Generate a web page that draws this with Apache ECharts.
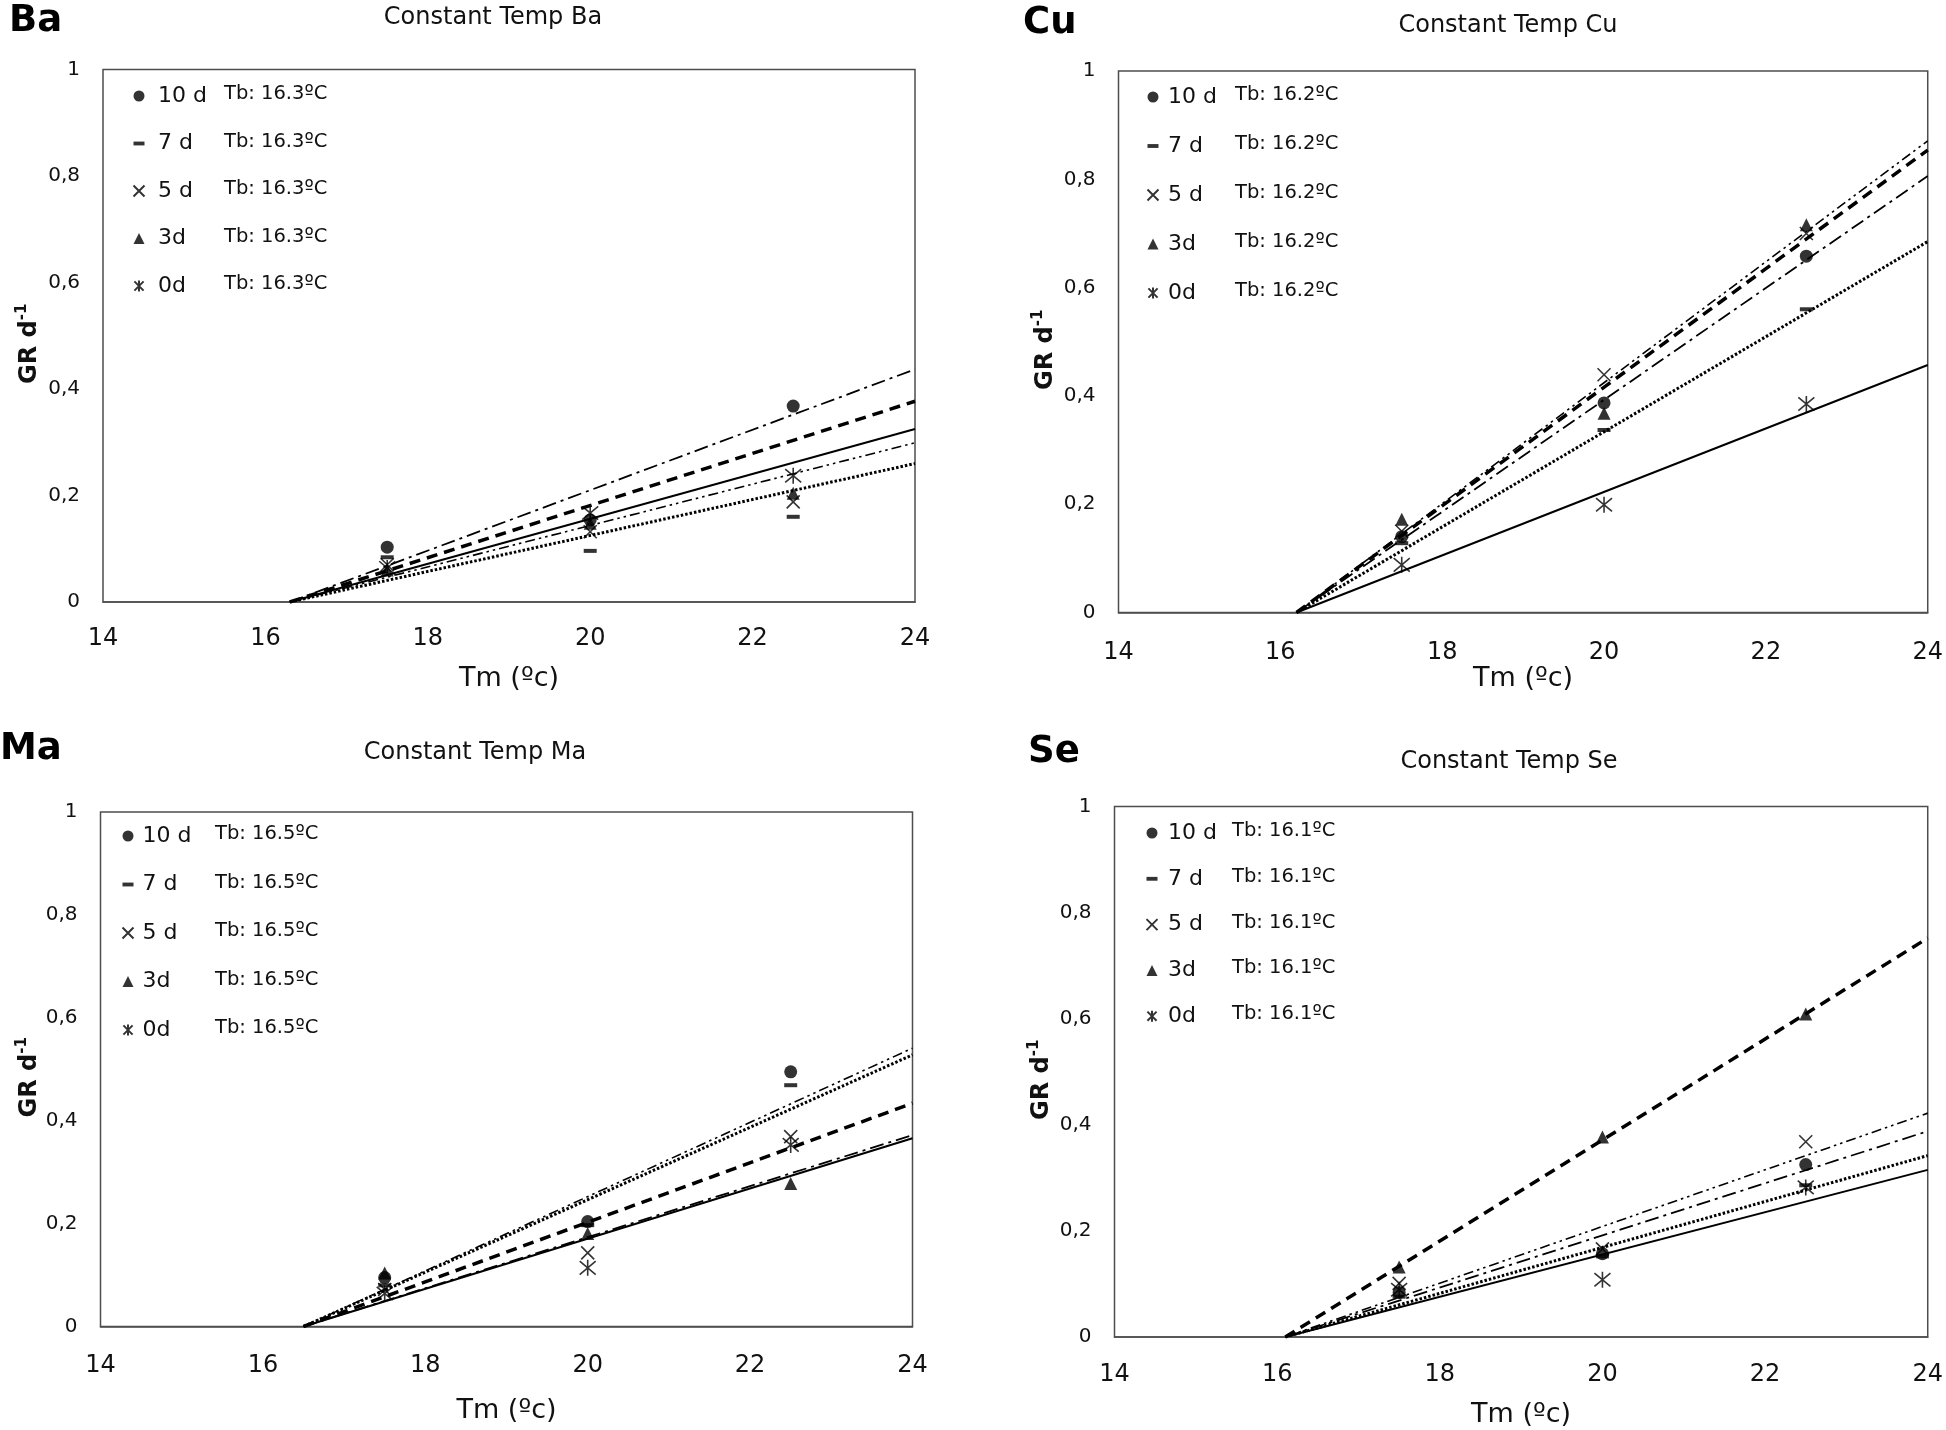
<!DOCTYPE html>
<html>
<head>
<meta charset="utf-8">
<script src="https://cdn.jsdelivr.net/npm/echarts@6/dist/echarts.min.js"></script>
<style>
html,body{margin:0;padding:0;background:#fff;}
#c{width:1946px;height:1430px;}
</style>
</head>
<body>
<div id="c"></div>
<script>
// ---------------- DATA ----------------
const tempPoints = [17.5, 20, 22.5];              // Tm (ºC) of the measured points
const seriesNames = ['10 d', '7 d', '5 d', '3d', '0d'];
const xTicks = [14, 16, 18, 20, 22, 24];
const yTickLabels = ['0', '0,2', '0,4', '0,6', '0,8', '1'];
const panelLabels = ['Ba', 'Cu', 'Ma', 'Se'];
const panelTitles = ['Constant Temp Ba', 'Constant Temp Cu', 'Constant Temp Ma', 'Constant Temp Se'];
const baseTemps = [16.3, 16.2, 16.5, 16.1];       // Tb: x-intercept of the fitted lines

// GR d-1 at 17.5, 20, 22.5 ºC
const ba10 = [0.103, 0.154, 0.368];
const ba7  = [0.084, 0.096, 0.160];
const ba5  = [0.070, 0.132, 0.188];
const ba3  = [0.060, 0.148, 0.204];
const ba0  = [0.064, 0.167, 0.237];
// fitted line value at Tm = 24 (10 d, 7 d, 5 d, 3d, 0d)
const baTrendEnd = [0.437, 0.260, 0.299, 0.377, 0.325];

const cu10 = [0.140, 0.387, 0.658];
const cu7  = [0.128, 0.337, 0.560];
const cu5  = [0.150, 0.439, 0.700];
const cu3  = [0.172, 0.368, 0.716];
const cu0  = [0.088, 0.199, 0.385];
const cuTrendEnd = [0.806, 0.685, 0.871, 0.854, 0.457];

const ma10 = [0.095, 0.204, 0.495];
const ma7  = [0.080, 0.197, 0.469];
const ma5  = [0.072, 0.143, 0.369];
const ma3  = [0.104, 0.181, 0.278];
const ma0  = [0.064, 0.114, 0.353];
const maTrendEnd = [0.372, 0.528, 0.541, 0.434, 0.366];

const se10 = [0.084, 0.157, 0.325];
const se7  = [0.076, 0.152, 0.286];
const se5  = [0.101, 0.166, 0.368];
const se3  = [0.132, 0.377, 0.609];
const se0  = [0.089, 0.108, 0.282];
const seTrendEnd = [0.388, 0.342, 0.422, 0.752, 0.315];

const panelSeries = [
  [ba10, ba7, ba5, ba3, ba0],
  [cu10, cu7, cu5, cu3, cu0],
  [ma10, ma7, ma5, ma3, ma0],
  [se10, se7, se5, se3, se0]
];
const panelTrends = [baTrendEnd, cuTrendEnd, maTrendEnd, seTrendEnd];

// ---------------- STYLE / LAYOUT ----------------
const FONT = 'DejaVu Sans';
const INK = '#111';
const trendStyles = [
  {color:'#000', width:1.8, type:[14,5,3,5]},           // 10 d : long dash dot
  {color:'#000', width:3.0, type:[2.5,2]},              // 7 d  : round dot
  {color:'#000', width:1.6, type:[10,4,2.5,4,2.5,4]},   // 5 d  : dash dot dot
  {color:'#000', width:3.5, type:[11,7]},               // 3d   : dash
  {color:'#000', width:2.0, type:'solid'}               // 0d   : solid
];
const X_PATH = 'path://M0,0L10,10M10,0L0,10';
const AST_PATH = 'path://M0,0L10,10M10,0L0,10M5,-1L5,11';
const markerSymbols = ['circle', 'rect', X_PATH, 'triangle', AST_PATH];
const markerSizes = [13, [13,4], 13, 13, 16];
const markerStyles = [
  {color:'#000'},
  {color:'#000'},
  {color:'#000', borderColor:'#000', borderWidth:1.6},
  {color:'#000'},
  {color:'#000', borderColor:'#000', borderWidth:1.6}
];
const legendIcons = ['circle', 'path://M0,0H10V3.5H0Z', X_PATH, 'triangle', AST_PATH];

const layouts = [
  {grid:{left:103, top:69.5, width:812, height:532.5}, xMargin:25, xNameGap:63, yNameGap:58,
   title:[493,18], label:[9,21], legend:{mx:138, my:94, step:47.5, nx:157, tx:223}},
  {grid:{left:1118.5, top:71, width:813.5, height:541.5}, xMargin:28, xNameGap:53, yNameGap:58,
   title:[1508,26], label:[1023,23], legend:{mx:1152, my:95, step:49, nx:1167, tx:1234}},
  {grid:{left:100.5, top:812, width:812, height:514.5}, xMargin:27, xNameGap:71, yNameGap:56,
   title:[475,753], label:[0,749], legend:{mx:127, my:834, step:48.5, nx:141.5, tx:214}},
  {grid:{left:1114.5, top:806.5, width:813.5, height:530.5}, xMargin:26, xNameGap:64, yNameGap:58,
   title:[1509,762], label:[1028,752], legend:{mx:1151, my:831, step:45.8, nx:1167, tx:1231}}
];

// ---------------- BUILD ----------------
const grids = [], xAxes = [], yAxes = [], series = [], legends = [], graphics = [];
const xMin = xTicks[0], xMax = xTicks[xTicks.length-1];

panelLabels.forEach((lab, gi) => {
  const L = layouts[gi];
  const tb = baseTemps[gi];
  grids.push(Object.assign({show:true, borderColor:'#4d4d4d', borderWidth:1.5, backgroundColor:'#fff'}, L.grid));
  xAxes.push({
    type:'value', gridIndex:gi, min:xMin, max:xMax, interval:xTicks[1]-xTicks[0],
    axisLine:{show:true, onZero:false, lineStyle:{color:'#4d4d4d', width:1.5}},
    axisTick:{show:false}, splitLine:{show:false},
    axisLabel:{fontFamily:FONT, fontSize:24, color:INK, margin:L.xMargin, showMinLabel:true, showMaxLabel:true},
    name:'Tm (ºc)', nameLocation:'middle', nameGap:L.xNameGap,
    nameTextStyle:{fontFamily:FONT, fontSize:27, color:INK}
  });
  yAxes.push({
    type:'value', gridIndex:gi, min:0, max:1, interval:0.2,
    axisLine:{show:false}, axisTick:{show:false}, splitLine:{show:false},
    axisLabel:{fontFamily:FONT, fontSize:20, color:INK, margin:23,
      formatter:(v)=>yTickLabels[Math.round(v/0.2)]},
    name:'{a|GR d}{s|-1}', nameLocation:'middle', nameRotate:90, nameGap:L.yNameGap,
    nameTextStyle:{fontFamily:FONT, fontWeight:'bold', fontSize:24, color:INK, padding:[0,16,0,0],
      rich:{
        a:{fontFamily:FONT, fontWeight:'bold', fontSize:24, color:INK, lineHeight:30},
        s:{fontFamily:FONT, fontWeight:'bold', fontSize:15, color:INK, verticalAlign:'top', lineHeight:16}
      }}
  });
  panelSeries[gi].forEach((vals, si) => {
    series.push({
      type:'line', name:seriesNames[si]+' fit '+lab, xAxisIndex:gi, yAxisIndex:gi,
      data:[[tb, 0], [xMax, panelTrends[gi][si]]],
      symbol:'none', showSymbol:false, silent:true, z:2,
      lineStyle:trendStyles[si]
    });
    series.push({
      type:'scatter', name:seriesNames[si], xAxisIndex:gi, yAxisIndex:gi,
      data:tempPoints.map((t,k)=>[t, vals[k]]),
      symbol:markerSymbols[si], symbolSize:markerSizes[si], itemStyle:markerStyles[si], z:3
    });
  });
  const lg = L.legend;
  const iw = 11;
  const textStart = lg.mx - iw/2 + iw + 5;
  const pad = Math.max(0, lg.nx - textStart);
  const itemH = 24;
  legends.push({
    show:true, orient:'vertical', left:lg.mx - iw/2, top:lg.my - 10, padding:0,
    itemWidth:iw, itemHeight:iw, itemGap:lg.step - itemH, selectedMode:false,
    data:seriesNames.map((n,i)=>({name:n, icon:legendIcons[i]})),
    formatter:(n)=>'{n|'+n+'}{t|Tb: '+tb.toFixed(1)+'ºC}',
    textStyle:{rich:{
      n:{fontFamily:FONT, fontSize:22, color:INK, lineHeight:22,
         width:lg.tx - textStart - pad, padding:[0,0,0,pad]},
      t:{fontFamily:FONT, fontSize:19.5, color:INK, lineHeight:22, padding:[0,0,4,0]}
    }}
  });
  graphics.push({type:'text', x:L.title[0], y:L.title[1], z:10,
    style:{text:panelTitles[gi], font:'24px "DejaVu Sans"', fill:INK, align:'center', verticalAlign:'middle'}});
  graphics.push({type:'text', x:L.label[0], y:L.label[1], z:10,
    style:{text:lab, font:'bold 37px "DejaVu Sans"', fill:'#000', align:'left', verticalAlign:'middle'}});
});

const chart = echarts.init(document.getElementById('c'), null, {renderer:'canvas'});
chart.setOption({
  animation:false,
  backgroundColor:'#fff',
  grid:grids, xAxis:xAxes, yAxis:yAxes, series:series, legend:legends, graphic:graphics
});
</script>
</body>
</html>
